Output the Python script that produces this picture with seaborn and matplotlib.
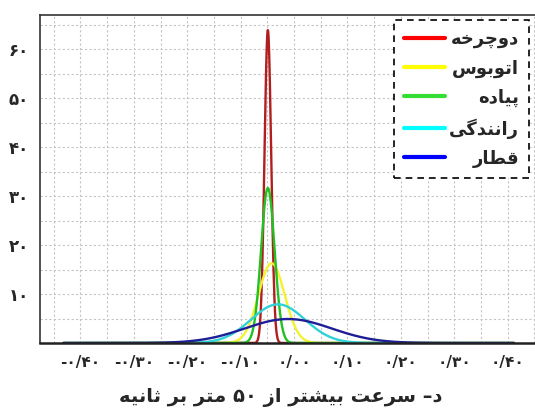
import numpy as np
import pandas as pd
import matplotlib
matplotlib.use("Agg")
import matplotlib.pyplot as plt
from matplotlib.ticker import FixedLocator, MultipleLocator
from matplotlib.lines import Line2D
from matplotlib.transforms import Affine2D
import seaborn as sns

# ---------------- data ----------------
MODES = ['دوچرخه', 'اتوبوس', 'پیاده', 'رانندگی', 'قطار']
MEANS = [-0.049, -0.042, -0.049, -0.030, -0.011]
SDS = [0.00624, 0.0245, 0.0126, 0.0505, 0.0814]
X_MIN, X_MAX = -0.432, 0.412
X_TICKS = [-0.4, -0.3, -0.2, -0.1, 0.0, 0.1, 0.2, 0.3, 0.4]
X_TICK_LABELS = ['-۰/۴۰', '-۰/۳۰', '-۰/۲۰', '-۰/۱۰', '۰/۰۰', '۰/۱۰', '۰/۲۰', '۰/۳۰', '۰/۴۰']
Y_TICKS = [10, 20, 30, 40, 50, 60]
Y_TICK_LABELS = ['۱۰', '۲۰', '۳۰', '۴۰', '۵۰', '۶۰']
CAPTION = 'د– سرعت بیشتر از ۵۰ متر بر ثانیه'

CURVE_COLORS = ['#b01e1e', '#f2f230', '#22c022', '#30d2d8', '#1e1e96']
LEGEND_COLORS = ['#ff0000', '#ffff00', '#33dd33', '#00ffff', '#0000ff']

# ---------------- minimal Persian shaping + RTL ordering ----------------
FORMS = {
    'ا': ('\uFE8D', '\uFE8E', None, None),
    'ب': ('\uFE8F', '\uFE90', '\uFE91', '\uFE92'),
    'پ': ('\uFB56', '\uFB57', '\uFB58', '\uFB59'),
    'ت': ('\uFE95', '\uFE96', '\uFE97', '\uFE98'),
    'ث': ('\uFE99', '\uFE9A', '\uFE9B', '\uFE9C'),
    'چ': ('\uFB7A', '\uFB7B', '\uFB7C', '\uFB7D'),
    'خ': ('\uFEA5', '\uFEA6', '\uFEA7', '\uFEA8'),
    'د': ('\uFEA9', '\uFEAA', None, None),
    'ر': ('\uFEAD', '\uFEAE', None, None),
    'ز': ('\uFEAF', '\uFEB0', None, None),
    'س': ('\uFEB1', '\uFEB2', '\uFEB3', '\uFEB4'),
    'ش': ('\uFEB5', '\uFEB6', '\uFEB7', '\uFEB8'),
    'ط': ('\uFEC1', '\uFEC2', '\uFEC3', '\uFEC4'),
    'ع': ('\uFEC9', '\uFECA', '\uFECB', '\uFECC'),
    'ق': ('\uFED5', '\uFED6', '\uFED7', '\uFED8'),
    'گ': ('\uFB92', '\uFB93', '\uFB94', '\uFB95'),
    'م': ('\uFEE1', '\uFEE2', '\uFEE3', '\uFEE4'),
    'ن': ('\uFEE5', '\uFEE6', '\uFEE7', '\uFEE8'),
    'ه': ('\uFEE9', '\uFEEA', '\uFEEB', '\uFEEC'),
    'و': ('\uFEED', '\uFEEE', None, None),
    'ی': ('\uFBFC', '\uFBFD', '\uFBFE', '\uFBFF'),
}


def shape_run(run):
    out = []
    for i, ch in enumerate(run):
        f = FORMS[ch]
        prev_j = i > 0 and FORMS[run[i - 1]][2] is not None
        next_j = f[2] is not None and i < len(run) - 1
        if prev_j and next_j:
            out.append(f[3])
        elif prev_j:
            out.append(f[1])
        elif next_j:
            out.append(f[2])
        else:
            out.append(f[0])
    return ''.join(reversed(out))


def visual_word(word):
    runs, cur, kind = [], '', None
    for ch in word:
        k = 'a' if ch in FORMS else ('d' if ch.isdigit() else 'o')
        if k != kind and cur:
            runs.append((kind, cur))
            cur = ''
        kind = k
        cur += ch
    if cur:
        runs.append((kind, cur))
    parts = []
    for k, r in reversed(runs):
        parts.append(shape_run(r) if k == 'a' else r)
    return ''.join(parts)


def visual_text(text):
    return ' '.join(visual_word(w) for w in reversed(text.split(' ')))


# ---------------- build data frame ----------------
xs = np.linspace(X_MIN, X_MAX, 1500)
frames = []
for mode, mu, sd in zip(MODES, MEANS, SDS):
    dens = np.exp(-0.5 * ((xs - mu) / sd) ** 2) / (sd * np.sqrt(2 * np.pi))
    frames.append(pd.DataFrame({'x': xs, 'density': dens, 'mode': mode}))
df = pd.concat(frames, ignore_index=True)

# ---------------- plot ----------------
sns.set_style('white')
plt.rcParams['font.family'] = ['DejaVu Sans']

W, H = 535, 409
fig = plt.figure(figsize=(W / 100, H / 100), dpi=100)
ax = fig.add_axes([40 / W, (H - 343) / H, 505 / W, (343 - 15) / H])

sns.lineplot(data=df, x='x', y='density', hue='mode', hue_order=MODES,
             palette=CURVE_COLORS, estimator=None, legend=False, lw=1.7, ax=ax)

ax.set_xlim(-0.4757, 0.470)
ax.set_ylim(0, 67)
ax.xaxis.set_major_locator(FixedLocator(X_TICKS))
ax.set_xticklabels(X_TICK_LABELS)
ax.yaxis.set_major_locator(FixedLocator(Y_TICKS))
ax.set_yticklabels(Y_TICK_LABELS)
ax.xaxis.set_minor_locator(MultipleLocator(0.05))
ax.yaxis.set_minor_locator(MultipleLocator(5))
ax.grid(which='both', color='#c4c4c4', linestyle=(0, (2, 2)), lw=0.8)
ax.set_axisbelow(True)
ax.set_xlabel('')
ax.set_ylabel('')

ax.tick_params(axis='x', which='both', length=0, pad=9, labelsize=11)
ax.tick_params(axis='y', which='both', length=3, width=0.8, color='#555555',
               direction='out', pad=5, labelsize=12)
for lab in ax.get_xticklabels() + ax.get_yticklabels():
    lab.set_fontweight('bold')

for side in ['left', 'top']:
    ax.spines[side].set_color('#333333')
    ax.spines[side].set_linewidth(1.2)
ax.spines['bottom'].set_color('#222222')
ax.spines['bottom'].set_linewidth(1.8)
ax.spines['right'].set_visible(False)

handles = [Line2D([0], [0], color=c, lw=3) for c in LEGEND_COLORS]
leg = ax.legend(handles, [visual_word(m) for m in MODES],
                loc='upper right', bbox_to_anchor=(529 / W, 1 - 20 / H),
                bbox_transform=fig.transFigure, borderaxespad=0,
                fancybox=False, framealpha=1, edgecolor='black',
                prop={'weight': 'bold', 'size': 13}, handlelength=2.3,
                labelspacing=0.62, handletextpad=0.2, borderpad=0.55)
leg.get_frame().set_linestyle((0, (4, 3)))
leg.get_frame().set_linewidth(1.2)

# right-align the legend labels (Persian text reads right to left)
fig.canvas.draw()
renderer = fig.canvas.get_renderer()
widths = [t.get_window_extent(renderer).width for t in leg.get_texts()]
wmax = max(widths)
for t, w in zip(leg.get_texts(), widths):
    t.set_transform(t.get_transform() + Affine2D().translate(wmax - w, 0))

fig.text(0.525, 0.028, visual_text(CAPTION), ha='center', va='center',
         fontsize=14, fontweight='bold')

fig.savefig('out.png', dpi=100)
